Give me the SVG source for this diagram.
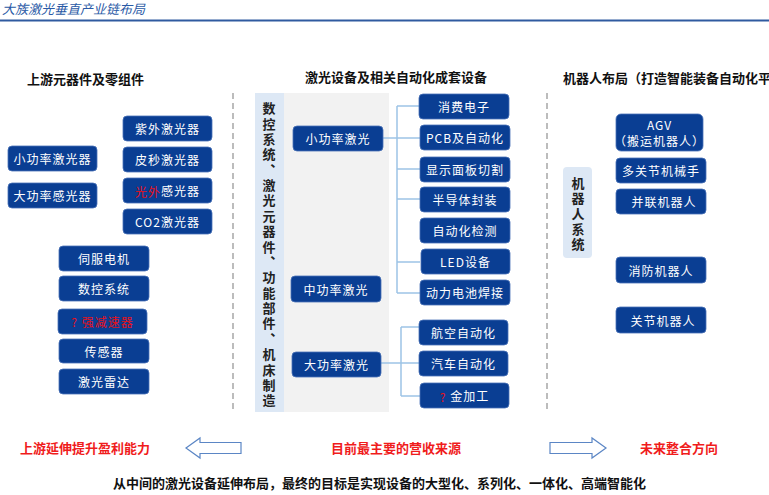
<svg xmlns="http://www.w3.org/2000/svg" width="769" height="495" viewBox="0 0 769 495">
<style>
text{font-family:"Noto Sans CJK SC","Liberation Serif",serif;}
.box{fill:#0a3e93;stroke:#4a72b8;stroke-width:0.8;}
.bt{fill:#fff;font-size:12px;letter-spacing:1px;text-anchor:middle;dominant-baseline:central;}
.red{fill:#e8101a;}
.hd{fill:#111;font-size:13px;font-weight:bold;dominant-baseline:central;}
.vt{fill:#222;font-size:13px;font-weight:bold;writing-mode:vertical-rl;letter-spacing:2.37px;}
.rt{fill:#f01c1c;font-size:13px;font-weight:bold;dominant-baseline:central;}
.dash{stroke:#a6a6a6;stroke-width:1.5;stroke-dasharray:6 4;fill:none;}
.con{stroke:#9dc3e6;stroke-width:1.5;fill:none;}
.arr{fill:#fff;stroke:#5b86c5;stroke-width:1.2;}
</style>
<rect width="769" height="495" fill="#fff"/>
<g id="header">
<text x="2" y="8" font-size="13" font-style="italic" fill="#2a5aa6" dominant-baseline="central">大族激光垂直产业链布局</text>
<rect x="0" y="19.5" width="769" height="2" fill="#2f5aa0"/>
</g>
<g id="separators">
<line class="dash" x1="233" y1="93" x2="233" y2="412"/>
<line class="dash" x1="547" y1="93" x2="547" y2="412"/>
</g>
<g id="headings">
<text class="hd" x="27" y="78">上游元器件及零组件</text>
<text class="hd" x="305" y="76">激光设备及相关自动化成套设备</text>
<text class="hd" x="563" y="77">机器人布局（打造智能装备自动化平</text>
</g>
<g id="panel">
<rect x="255" y="93" width="134" height="319" fill="#f2f2f2"/>
<rect x="255" y="93" width="29" height="319" fill="#dde8f5"/>
<text class="vt" x="269" y="101.8">数控系统、激光元器件、功能部件、机床制造</text>
</g>
<g id="connectors">
<line class="con" x1="397" y1="106" x2="397" y2="293"/>
<line class="con" x1="383" y1="138" x2="420" y2="138"/>
<line class="con" x1="397" y1="106" x2="419" y2="106"/>
<line class="con" x1="397" y1="169" x2="420" y2="169"/>
<line class="con" x1="397" y1="199" x2="420" y2="199"/>
<line class="con" x1="397" y1="262" x2="420" y2="262"/>
<line class="con" x1="397" y1="293" x2="420" y2="293"/>
<line class="con" x1="401" y1="327" x2="401" y2="396"/>
<line class="con" x1="381" y1="363" x2="419" y2="363"/>
<line class="con" x1="401" y1="327" x2="419" y2="327"/>
<line class="con" x1="401" y1="396" x2="420" y2="396"/>
</g>
<g id="left-nodes">
<g id="n-ziwai"><rect class="box" x="123" y="116" width="89" height="25" rx="4"/><text class="bt" x="167.5" y="128.5">紫外激光器</text></g>
<g id="n-pimiao"><rect class="box" x="123" y="147" width="89" height="25" rx="4"/><text class="bt" x="167.5" y="159.5">皮秒激光器</text></g>
<g id="n-guangwai"><rect class="box" x="123" y="178" width="89" height="25" rx="4"/><text class="bt" x="167.5" y="190.5"><tspan class="red">光外</tspan>感光器</text></g>
<g id="n-co2"><rect class="box" x="123" y="209" width="89" height="25" rx="4"/><text class="bt" x="167.5" y="221.5">CO2激光器</text></g>
<g id="n-xiaogonglv"><rect class="box" x="8" y="146" width="89" height="25" rx="4"/><text class="bt" x="52.5" y="158.5">小功率激光器</text></g>
<g id="n-dagonglv"><rect class="box" x="8" y="183" width="89" height="25" rx="4"/><text class="bt" x="52.5" y="195.5">大功率感光器</text></g>
<g id="n-sifu"><rect class="box" x="59" y="246" width="90" height="25" rx="4"/><text class="bt" x="104" y="258.5">伺服电机</text></g>
<g id="n-shukong"><rect class="box" x="59" y="276" width="90" height="25" rx="4"/><text class="bt" x="104" y="288.5">数控系统</text></g>
<g id="n-jiansu"><rect class="box" x="58" y="309" width="89" height="25" rx="4"/><text class="bt red" x="102.5" y="321.5">? 强减速器</text></g>
<g id="n-chuangan"><rect class="box" x="59" y="339" width="90" height="24" rx="4"/><text class="bt" x="104" y="351">传感器</text></g>
<g id="n-leida"><rect class="box" x="59" y="369" width="90" height="25" rx="4"/><text class="bt" x="104" y="381.5">激光雷达</text></g>
</g>
<g id="mid-nodes">
<g id="m-xiao"><rect class="box" x="293" y="126" width="90" height="25" rx="4"/><text class="bt" x="338" y="138.5">小功率激光</text></g>
<g id="m-zhong"><rect class="box" x="291" y="276" width="90" height="26" rx="4"/><text class="bt" x="336" y="289">中功率激光</text></g>
<g id="m-da"><rect class="box" x="292" y="352" width="89" height="25" rx="4"/><text class="bt" x="336.5" y="364.5">大功率激光</text></g>
<g id="m-xiaofei"><rect class="box" x="419" y="94" width="90" height="25" rx="4"/><text class="bt" x="464" y="106.5">消费电子</text></g>
<g id="m-pcb"><rect class="box" x="420" y="125" width="90" height="25" rx="4"/><text class="bt" x="465" y="137.5">PCB及自动化</text></g>
<g id="m-xianshi"><rect class="box" x="420" y="157" width="90" height="25" rx="4"/><text class="bt" x="465" y="169.5">显示面板切割</text></g>
<g id="m-bandaoti"><rect class="box" x="420" y="187" width="90" height="25" rx="4"/><text class="bt" x="465" y="199.5">半导体封装</text></g>
<g id="m-jiance"><rect class="box" x="420" y="218" width="90" height="25" rx="4"/><text class="bt" x="465" y="230.5">自动化检测</text></g>
<g id="m-led"><rect class="box" x="421" y="249" width="89" height="25" rx="4"/><text class="bt" x="465.5" y="261.5">LED设备</text></g>
<g id="m-dianchi"><rect class="box" x="420" y="280" width="90" height="25" rx="4"/><text class="bt" x="465" y="292.5">动力电池焊接</text></g>
<g id="m-hangkong"><rect class="box" x="419" y="320" width="89" height="25" rx="4"/><text class="bt" x="463.5" y="332.5">航空自动化</text></g>
<g id="m-qiche"><rect class="box" x="419" y="351" width="89" height="25" rx="4"/><text class="bt" x="463.5" y="363.5">汽车自动化</text></g>
<g id="m-jin"><rect class="box" x="420" y="383" width="89" height="25" rx="4"/><text class="bt" x="464.5" y="395.5"><tspan class="red">?</tspan> 金加工</text></g>
</g>
<g id="right-nodes">
<g id="r-strip"><rect x="563" y="167" width="29" height="91" rx="4" fill="#dde8f5"/><text class="vt" x="578" y="176.5" style="letter-spacing:2.3px">机器人系统</text></g>
<g id="r-agv"><rect class="box" x="616" y="114" width="87" height="37" rx="5"/><text class="bt" x="659.5" y="124">AGV</text><text class="bt" x="659.5" y="140">（搬运机器人）</text></g>
<g id="r-duoguanjie"><rect class="box" x="616" y="158" width="90" height="25" rx="4"/><text class="bt" x="661" y="170.5">多关节机械手</text></g>
<g id="r-binglian"><rect class="box" x="616" y="189" width="90" height="25" rx="4"/><text class="bt" x="664" y="201.5">并联机器人</text></g>
<g id="r-xiaofang"><rect class="box" x="616" y="257" width="90" height="26" rx="4"/><text class="bt" x="661" y="270">消防机器人</text></g>
<g id="r-guanjie"><rect class="box" x="616" y="307" width="90" height="26" rx="4"/><text class="bt" x="663" y="320">关节机器人</text></g>
</g>
<g id="bottom">
<path class="arr" d="M186,448 L200,438 L200,442.5 L241,442.5 L241,453.5 L200,453.5 L200,458 Z"/>
<path class="arr" d="M606,448 L592,438 L592,442.5 L550,442.5 L550,453.5 L592,453.5 L592,458 Z"/>
<text class="rt" x="20" y="447">上游延伸提升盈利能力</text>
<text class="rt" x="331" y="447">目前最主要的营收来源</text>
<text class="rt" x="640" y="447">未来整合方向</text>
<text x="113" y="482" font-size="13" font-weight="bold" fill="#111" dominant-baseline="central">从中间的激光设备延伸布局，最终的目标是实现设备的大型化、系列化、一体化、高端智能化</text>
</g>
</svg>
